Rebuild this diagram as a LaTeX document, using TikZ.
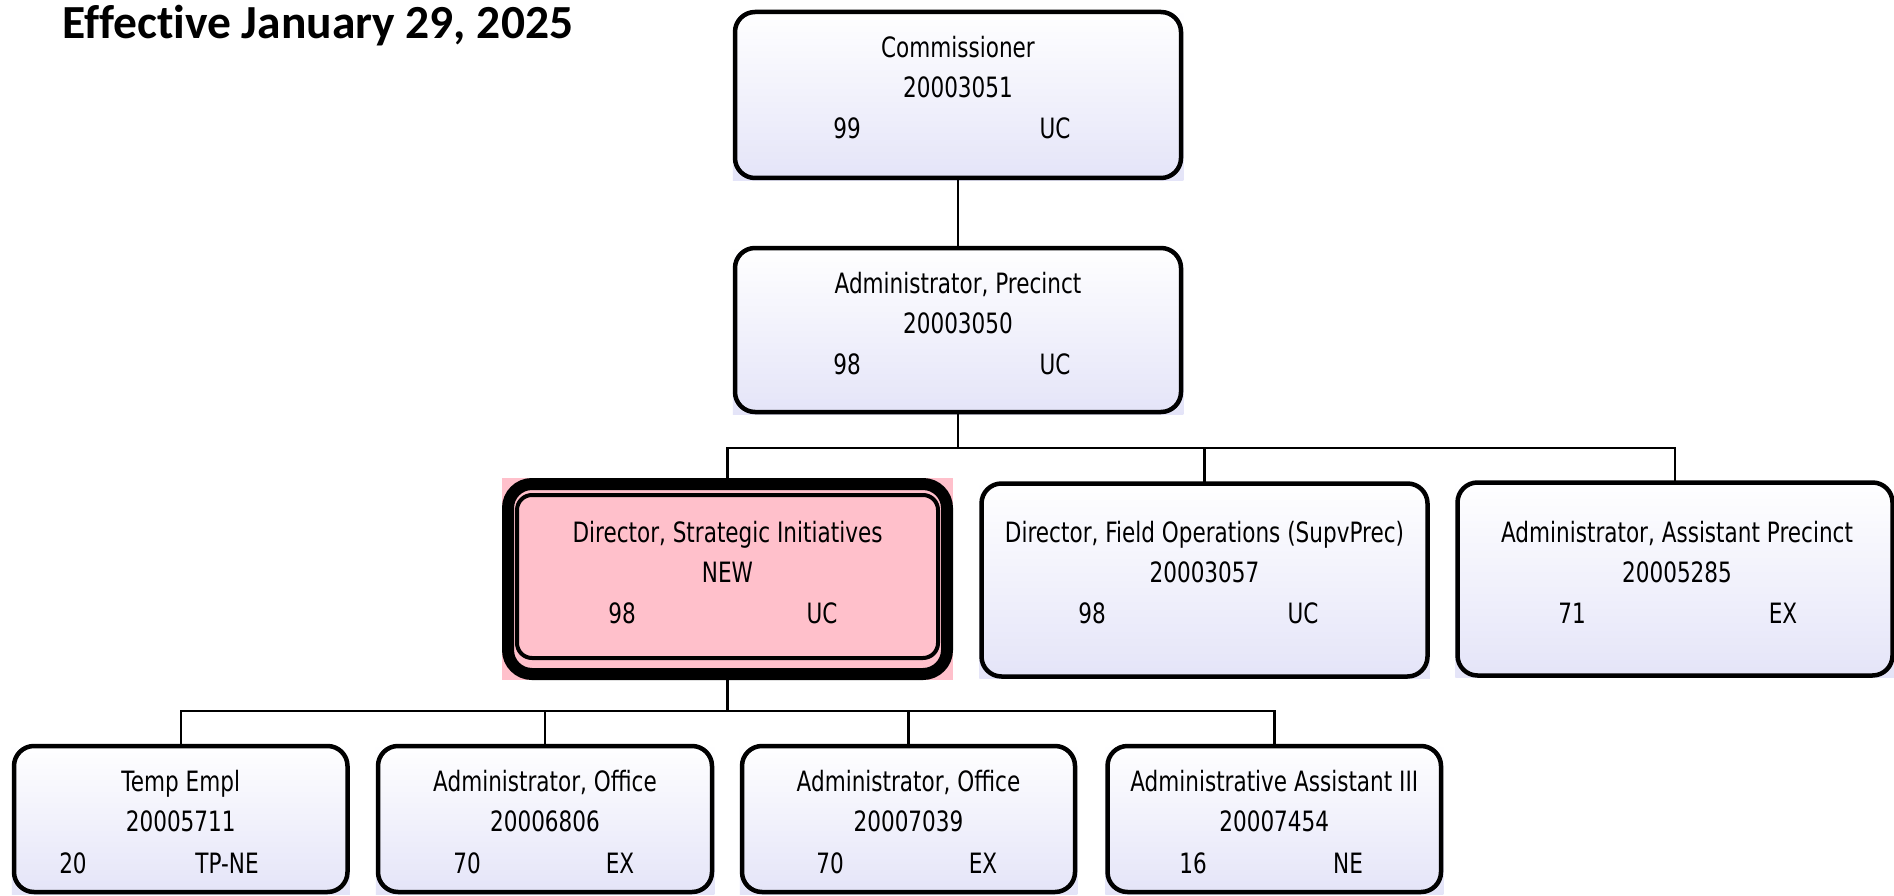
\documentclass[tikz,border=0pt]{standalone}
\usepackage{fontspec}
\usetikzlibrary{backgrounds}
\newfontfamily\boxfnt[FakeStretch=0.77]{DejaVu Sans}
\newfontfamily\titlefnt[Ligatures=NoCommon]{Carlito}
\definecolor{lav}{RGB}{228,228,248}
\definecolor{pinkc}{RGB}{255,192,203}
\tikzset{
  orgbox/.style={draw, line width=4.5pt, rounded corners=20pt, inner sep=0pt, outer sep=0pt},
  newbox/.style={draw, line width=12pt, rounded corners=24pt, inner sep=0pt, outer sep=0pt},
  newinner/.style={draw, line width=4pt, rounded corners=15pt, inner sep=0pt, outer sep=0pt},
  txt/.style={font=\boxfnt\fontsize{28}{30}\selectfont, inner sep=0pt, anchor=base},
  conn/.style={line width=2.5pt},
  ttl/.style={font=\titlefnt\bfseries\fontsize{47.5}{50}\selectfont, inner sep=0pt, anchor=base west}
}
\begin{document}
\begin{tikzpicture}[x=1pt,y=-1pt]
\useasboundingbox (0,0) rectangle (1894,896);
% title
\node[ttl] (title) at (62,39) {Effective January 29, 2025};
% boxes
\node[orgbox, minimum width=446pt, minimum height=166pt] (comm) at (958,95) {};
\node[orgbox, minimum width=446pt, minimum height=164pt] (prec) at (958,330) {};
\node[newbox, minimum width=439pt, minimum height=190pt] (dsi) at (727.5,579) {};
\node[newinner, minimum width=421pt, minimum height=163pt] (dsiin) at (727.5,576.5) {};
\node[orgbox, minimum width=446pt, minimum height=193pt] (afo) at (1204.5,580) {};
\node[orgbox, minimum width=435pt, minimum height=193pt] (aap) at (1675,579) {};
\node[orgbox, minimum width=333.5pt, minimum height=146pt] (temp) at (180.75,819) {};
\node[orgbox, minimum width=334pt, minimum height=146pt] (ao1) at (545,819) {};
\node[orgbox, minimum width=333pt, minimum height=146pt] (ao2) at (908.5,819) {};
\node[orgbox, minimum width=333.5pt, minimum height=146pt] (aa3) at (1274.25,819) {};
% backgrounds
\begin{scope}[on background layer]
  \fill[white] (0,0) rectangle (1894,896);
  \foreach \n in {comm,prec,afo,aap,temp,ao1,ao2,aa3}
    \shade[top color=white, bottom color=lav] ([xshift=-2.25pt,yshift=-2.25pt]\n.south west) rectangle ([xshift=2.25pt,yshift=2.25pt]\n.north east);
  \fill[pinkc] ([xshift=-6pt,yshift=-6pt]dsi.south west) rectangle ([xshift=6pt,yshift=6pt]dsi.north east);
\end{scope}
% texts
\node[txt] (commt) at (958,58) {Commissioner};
\node[txt] (commn) at (958,98) {20003051};
\node[txt] (comml) at (847,139) {99};
\node[txt] (commr) at (1055,139) {UC};

\node[txt] (prect) at (958,293) {Administrator, Precinct};
\node[txt] (precn) at (958,333) {20003050};
\node[txt] (precl) at (847,374) {98};
\node[txt] (precr) at (1055,374) {UC};

\node[txt] (dsit) at (727.5,542) {Director, Strategic Initiatives};
\node[txt] (dsin) at (727.5,582) {NEW};
\node[txt] (dsil) at (622,623) {98};
\node[txt] (dsir) at (822,623) {UC};

\node[txt] (afot) at (1204.5,542) {Director, Field Operations (SupvPrec)};
\node[txt] (afon) at (1204.5,582) {20003057};
\node[txt] (afol) at (1092,623) {98};
\node[txt] (afor) at (1303,623) {UC};

\node[txt] (aapt) at (1677,542) {Administrator, Assistant Precinct};
\node[txt] (aapn) at (1677,582) {20005285};
\node[txt] (aapl) at (1572,623) {71};
\node[txt] (aapr) at (1783,623) {EX};

\node[txt] (tempt) at (180.75,791) {Temp Empl};
\node[txt] (tempn) at (180.75,831) {20005711};
\node[txt] (templ) at (73,873) {20};
\node[txt] (tempr) at (227,873) {TP-NE};

\node[txt] (ao1t) at (545,791) {Administrator, Office};
\node[txt] (ao1n) at (545,831) {20006806};
\node[txt] (ao1l) at (467,873) {70};
\node[txt] (ao1r) at (620,873) {EX};

\node[txt] (ao2t) at (908.5,791) {Administrator, Office};
\node[txt] (ao2n) at (908.5,831) {20007039};
\node[txt] (ao2l) at (830,873) {70};
\node[txt] (ao2r) at (983,873) {EX};

\node[txt] (aa3t) at (1274.25,791) {Administrative Assistant III};
\node[txt] (aa3n) at (1274.25,831) {20007454};
\node[txt] (aa3l) at (1193,873) {16};
\node[txt] (aa3r) at (1348,873) {NE};
% connectors
\coordinate (bus1) at (958,448);
\coordinate (bus2) at (727.5,711);
\draw[conn] (comm.south) -- (prec.north);
\draw[conn] (prec.south) -- (bus1);
\draw[conn] (dsi.north) |- (aap.north |- bus1) -- (aap.north);
\draw[conn] (afo.north) -- (afo.north |- bus1);
\draw[conn] (dsi.south) -- (bus2);
\draw[conn] (temp.north) |- (aa3.north |- bus2) -- (aa3.north);
\draw[conn] (ao1.north) -- (ao1.north |- bus2);
\draw[conn] (ao2.north) -- (ao2.north |- bus2);
\end{tikzpicture}
\end{document}
